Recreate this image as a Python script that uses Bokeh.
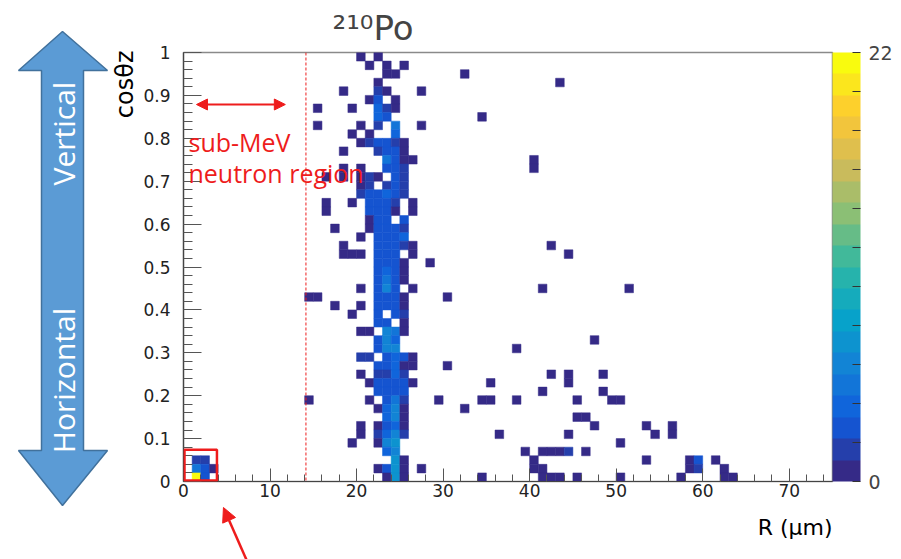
import numpy as np
from bokeh.plotting import figure
from bokeh.layouts import row, column
from bokeh.embed import file_html
from bokeh.resources import INLINE
from bokeh.core.properties import value
from bokeh.models import (ColumnDataSource, LinearColorMapper, ColorBar, FixedTicker,
                          SingleIntervalTicker, CustomJSTickFormatter, Span, Arrow,
                          NormalHead, Label, BoxAnnotation)

# ---------------- data: 2D histogram of R (um) vs cos(theta_z) ----------------
R_STEP = 1.0     # bin width in R (um)
C_STEP = 0.02    # bin width in cos(theta_z)
R_MAX = 75
Z_MAX = 22       # palette maximum

r_bin = [
    20, 22,
    21, 23, 25,
    23, 24, 32,
    22, 43,
    18, 22, 23, 27,
    21, 22, 24,
    15, 19, 22, 23, 24,
    22, 23, 34,
    15, 20, 22, 24, 27,
    19, 21, 24,
    20, 21, 22, 23, 24, 25,
    18, 22, 23, 24, 25,
    23, 24, 25, 26, 40,
    18, 20, 23, 24, 25, 40,
    16, 18, 20, 21, 22, 24, 25,
    20, 21, 23, 24, 25,
    20, 21, 22, 23, 24, 25,
    16, 19, 21, 22, 23, 24, 26,
    16, 21, 22, 23, 24, 26,
    21, 22, 23, 25,
    17, 21, 22, 23, 24, 25,
    20, 22, 23, 24, 25,
    18, 22, 23, 24, 25, 26, 42,
    18, 19, 20, 22, 23, 24, 26, 44,
    22, 23, 24, 25, 28,
    22, 23, 24, 25,
    22, 23, 24, 25,
    20, 22, 23, 24, 26, 41, 51,
    14, 15, 22, 23, 24, 25, 30,
    17, 20, 22, 23, 24, 25,
    19, 22, 24, 25,
    22, 23, 25,
    20, 21, 23, 24, 25,
    22, 23, 24, 47,
    22, 23, 24, 38,
    20, 21, 23, 24, 25, 26,
    22, 23, 24, 25, 26, 30,
    20, 22, 23, 24, 25, 42, 44, 48,
    21, 22, 23, 24, 25, 26, 35, 44,
    22, 23, 24, 25, 41, 48,
    14, 21, 23, 24, 25, 29, 34, 35, 38, 45, 49, 50,
    22, 23, 24, 25, 32,
    23, 24, 25, 45, 46,
    20, 22, 23, 24, 25, 47, 53, 56,
    20, 22, 23, 24, 25, 36, 44, 54, 56,
    19, 22, 23, 24, 50,
    23, 24, 39, 41, 42, 43, 44, 46,
    1, 2, 24, 25, 40, 53, 58, 59, 61,
    1, 2, 3, 22, 23, 24, 25, 27, 40, 41, 58, 59, 62,
    1, 2, 23, 24, 25, 34, 41, 42, 43, 45, 50, 57, 62, 63,
]

cos_bin = [
    49, 49,
    48, 48, 48,
    47, 47, 47,
    46, 46,
    45, 45, 45, 45,
    44, 44, 44,
    43, 43, 43, 43, 43,
    42, 42, 42,
    41, 41, 41, 41, 41,
    40, 40, 40,
    39, 39, 39, 39, 39, 39,
    38, 38, 38, 38, 38,
    37, 37, 37, 37, 37,
    36, 36, 36, 36, 36, 36,
    35, 35, 35, 35, 35, 35, 35,
    34, 34, 34, 34, 34,
    33, 33, 33, 33, 33, 33,
    32, 32, 32, 32, 32, 32, 32,
    31, 31, 31, 31, 31, 31,
    30, 30, 30, 30,
    29, 29, 29, 29, 29, 29,
    28, 28, 28, 28, 28,
    27, 27, 27, 27, 27, 27, 27,
    26, 26, 26, 26, 26, 26, 26, 26,
    25, 25, 25, 25, 25,
    24, 24, 24, 24,
    23, 23, 23, 23,
    22, 22, 22, 22, 22, 22, 22,
    21, 21, 21, 21, 21, 21, 21,
    20, 20, 20, 20, 20, 20,
    19, 19, 19, 19,
    18, 18, 18,
    17, 17, 17, 17, 17,
    16, 16, 16, 16,
    15, 15, 15, 15,
    14, 14, 14, 14, 14, 14,
    13, 13, 13, 13, 13, 13,
    12, 12, 12, 12, 12, 12, 12, 12,
    11, 11, 11, 11, 11, 11, 11, 11,
    10, 10, 10, 10, 10, 10,
    9, 9, 9, 9, 9, 9, 9, 9, 9, 9, 9, 9,
    8, 8, 8, 8, 8,
    7, 7, 7, 7, 7,
    6, 6, 6, 6, 6, 6, 6, 6,
    5, 5, 5, 5, 5, 5, 5, 5, 5,
    4, 4, 4, 4, 4,
    3, 3, 3, 3, 3, 3, 3, 3,
    2, 2, 2, 2, 2, 2, 2, 2, 2,
    1, 1, 1, 1, 1, 1, 1, 1, 1, 1, 1, 1, 1,
    0, 0, 0, 0, 0, 0, 0, 0, 0, 0, 0, 0, 0, 0,
]

counts = [
    1, 1,
    1, 1, 1,
    1, 1, 1,
    1, 1,
    1, 2, 1, 1,
    1, 3, 1,
    1, 1, 4, 2, 1,
    4, 3, 1,
    1, 1, 2, 5, 1,
    1, 1, 4,
    1, 2, 3, 3, 2, 1,
    1, 2, 3, 3, 1,
    5, 3, 1, 1, 1,
    1, 1, 3, 3, 2, 1,
    1, 1, 1, 2, 1, 3, 2,
    1, 2, 2, 3, 2,
    2, 3, 3, 4, 3, 2,
    1, 1, 3, 3, 3, 2, 1,
    1, 3, 3, 3, 1, 1,
    1, 3, 3, 3,
    1, 1, 3, 3, 3, 2,
    1, 3, 3, 3, 4,
    1, 3, 3, 3, 2, 1, 1,
    1, 1, 1, 3, 3, 3, 1, 1,
    3, 3, 3, 1, 1,
    3, 4, 3, 1,
    3, 5, 3, 1,
    1, 3, 6, 3, 1, 1, 1,
    1, 1, 3, 3, 3, 1, 1,
    1, 1, 3, 3, 3, 1,
    1, 3, 3, 2,
    3, 3, 1,
    1, 1, 6, 5, 1,
    3, 6, 4, 1,
    3, 6, 6, 1,
    2, 2, 3, 4, 3, 1,
    3, 3, 4, 1, 1, 1,
    1, 2, 2, 4, 2, 1, 1, 1,
    1, 3, 3, 3, 3, 1, 1, 1,
    3, 3, 3, 3, 1, 1,
    1, 1, 3, 5, 2, 1, 1, 1, 1, 1, 1, 1,
    1, 4, 6, 1, 1,
    4, 6, 1, 1, 1,
    1, 1, 3, 4, 1, 1, 1, 1,
    1, 2, 4, 6, 2, 1, 1, 1, 1,
    1, 1, 6, 7, 1,
    4, 6, 1, 1, 1, 1, 2, 1,
    2, 2, 7, 1, 1, 1, 1, 3, 1,
    5, 3, 1, 1, 3, 7, 1, 1, 1, 1, 1, 2, 1,
    22, 3, 1, 7, 1, 1, 1, 1, 1, 1, 1, 1, 1, 1,
]

neutron_cut_um = 14.15   # dashed boundary of the sub-MeV neutron region

# ---------------- palette (ROOT kBird, 20 contour bands) ----------------
stops = [0.0, 0.125, 0.25, 0.375, 0.5, 0.625, 0.75, 0.875, 1.0]
red = [0.2082, 0.0592, 0.0780, 0.0232, 0.1802, 0.5301, 0.8186, 0.9956, 0.9764]
green = [0.1664, 0.3599, 0.5041, 0.6419, 0.7178, 0.7492, 0.7328, 0.7862, 0.9832]
blue = [0.5293, 0.8684, 0.8385, 0.7914, 0.6425, 0.4662, 0.3499, 0.1968, 0.0539]
tt = np.linspace(0, 1, 20)
palette = ["#%02x%02x%02x" % (int(round(255 * np.interp(t, stops, red))),
                              int(round(255 * np.interp(t, stops, green))),
                              int(round(255 * np.interp(t, stops, blue)))) for t in tt]
mapper = LinearColorMapper(palette=palette, low=0, high=Z_MAX)

src = ColumnDataSource(dict(
    x=[(b + 0.5) * R_STEP for b in r_bin],
    y=[(b + 0.5) * C_STEP for b in cos_bin],
    n=counts,
))

# ---------------- page geometry (pixels) ----------------
W, H = 901, 559
LW = 140                 # left decoration strip
FL, FR, FT, FB = 182, 832, 52, 481   # main frame
MB = 25                  # room under frame for tick labels
MH = FB + MB             # main figure height
BH = H - MH              # bottom strip height
FONT = "DejaVu Sans"
RED = "#ee1c1c"


def deco_fig(w, h, x_lo, x_hi, py_top):
    # y data = H - pixel row, so y grows upwards as usual
    f = figure(width=w, height=h, x_range=(x_lo, x_hi), y_range=(H - py_top - h, H - py_top),
               output_backend="svg", toolbar_location=None,
               x_axis_type=None, y_axis_type=None, min_border=0)
    f.outline_line_color = None
    f.background_fill_color = "white"
    f.border_fill_color = "white"
    return f


# ---------------- main histogram ----------------
p = figure(width=W - LW, height=MH, x_range=(0, R_MAX), y_range=(0, 1),
           output_backend="svg", toolbar_location=None,
           min_border_left=FL - LW, min_border_right=W - FR,
           min_border_top=FT, min_border_bottom=MB)
p.background_fill_color = "white"
p.border_fill_color = "white"
p.xgrid.visible = False
p.ygrid.visible = False
p.outline_line_color = "#8a8a8a"
p.outline_line_width = 1.5

p.title.text = "\u00b2\u00b9\u2070Po"
p.title.text_font = FONT
p.title.text_font_size = "34px"
p.title.text_font_style = "normal"
p.title.align = "left"
p.title.offset = 331 - FL
p.title.standoff = 9

p.rect(x="x", y="y", width=R_STEP, height=C_STEP, source=src,
       fill_color={"field": "n", "transform": mapper},
       line_color={"field": "n", "transform": mapper}, line_width=0.5)

p.xaxis.ticker = SingleIntervalTicker(interval=10, num_minor_ticks=5)
p.yaxis.ticker = SingleIntervalTicker(interval=0.1, num_minor_ticks=5)
p.yaxis.formatter = CustomJSTickFormatter(code="return String(Math.round(tick*10)/10);")
for ax in (p.xaxis, p.yaxis):
    ax.axis_line_color = "#444444"
    ax.axis_line_width = 1.2
    ax.major_tick_line_color = "#555555"
    ax.minor_tick_line_color = "#555555"
    ax.major_tick_out = 0
    ax.minor_tick_out = 0
    ax.major_label_text_font = FONT
    ax.major_label_text_color = "#222222"
    ax.major_label_text_font_size = "17px"
p.xaxis.major_tick_in = 13
p.xaxis.minor_tick_in = 7
p.xaxis.major_label_standoff = 2
p.yaxis.major_tick_in = 18
p.yaxis.minor_tick_in = 9
p.yaxis.major_label_standoff = 13

cb = ColorBar(color_mapper=mapper, ticker=FixedTicker(ticks=list(range(0, 23, 2))),
              formatter=CustomJSTickFormatter(code="return (tick == 0 || tick == 22) ? String(tick) : '';"),
              width=28, margin=3, padding=0, major_tick_in=8, major_tick_out=0,
              major_tick_line_color="#333333", label_standoff=8,
              major_label_text_font=FONT, major_label_text_font_size="19px",
              bar_line_color=None, background_fill_alpha=0, border_line_color=None)
p.add_layout(cb, "right")


def dx(px):
    return (px - FL) / (FR - FL) * R_MAX


def dy(py):
    return (FB - py) / (FB - FT)


# red neutron-region marks inside the frame
p.add_layout(Span(location=neutron_cut_um, dimension="height", line_color=RED,
                  line_dash="3 2", line_width=1))
p.add_layout(Arrow(x_start=dx(195), y_start=dy(104), x_end=dx(284), y_end=dy(104),
                   start=NormalHead(size=11, fill_color=RED, line_color=RED),
                   end=NormalHead(size=11, fill_color=RED, line_color=RED),
                   line_color=RED, line_width=2))
p.add_layout(Label(x=dx(187), y=dy(158), text="sub-MeV", text_font="Open Sans",
                   text_font_size="25px", text_color=RED))
p.add_layout(Label(x=dx(187), y=dy(189), text="neutron region", text_font="Open Sans",
                   text_font_size="25px", text_color=RED))
p.add_layout(BoxAnnotation(left=dx(183), right=dx(215.5), bottom=dy(480), top=dy(449.3),
                           fill_alpha=0, line_color=RED, line_alpha=1.0, line_width=2.5))

# ---------------- left strip: big double arrow + y title ----------------
L = deco_fig(LW, H, 0, LW, 0)
arrow_px = [62, 107, 83, 83, 107, 62, 18, 41, 41, 18]
arrow_py = [31, 70, 70, 450, 450, 505, 450, 450, 70, 70]
L.patch(x=arrow_px, y=[H - v for v in arrow_py],
        fill_color="#5b9bd5", line_color="#41719c", line_width=1.5)
L.text(x=[63, 63], y=[H - 133, H - 380], text=["Vertical", "Horizontal"], angle=np.pi / 2,
       text_font=value("Open Sans"), text_font_size="30px", text_color="white",
       text_align="center", text_baseline="middle")
L.text(x=[124], y=[H - 50], text=["cos\u03b8z"], angle=np.pi / 2,
       text_font=value(FONT), text_font_size="24px", text_color="black",
       text_align="right", text_baseline="middle")

# ---------------- bottom strip: x title + pointer arrow ----------------
# (its frame is aligned with the main frame, so x spans FL..FR in pixels)
B = deco_fig(W - LW, BH, FL, FR, MH)
B.text(x=[832], y=[H - 527], text=["R (\u03bcm)"], text_font=value(FONT),
       text_font_size="22px", text_color="black", text_align="right",
       text_baseline="alphabetic")
B.add_layout(Arrow(x_start=252, y_start=H - 575, x_end=222, y_end=H - (MH + 1),
                   end=NormalHead(size=14, fill_color=RED, line_color=RED),
                   line_color=RED, line_width=2.5))

layout = row(L, column(p, B, spacing=0), spacing=0)
open("out.html", "w").write(file_html(layout, INLINE))
